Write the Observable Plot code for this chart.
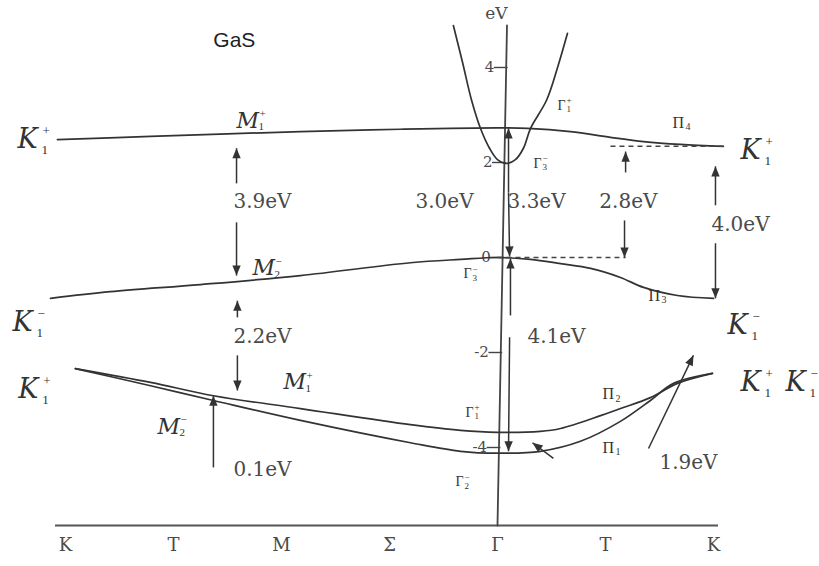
<!DOCTYPE html>
<html>
<head>
<meta charset="utf-8">
<script src="https://cdn.jsdelivr.net/npm/d3@7"></script>
<script src="https://cdn.jsdelivr.net/npm/@observablehq/plot@0.6"></script>
<style>
  html, body { margin: 0; padding: 0; background: #fff; }
</style>
</head>
<body>
<div id="chart"></div>
<script>
// Path through the Brillouin zone K–T–M–Σ–Γ–T–K (Γ at 0), energies in eV.
const pathTicks = [-2, -1.5, -1, -0.5, 0, 0.5, 1];
const pathTickLabels = ["K", "T", "M", "Σ", "Γ", "T", "K"];
const energyTicks = [4, 2, 0, -2, -4];
const energyTickLabels = ["4", "2", "0", "-2", "-4"];

// Bands
const upperBandK = [-2.037, -1.606, -0.912, -0.449, 0, 0.139, 0.338, 0.523, 0.676, 0.847, 1.046];
const upperBandE = [2.48, 2.55, 2.65, 2.70, 2.73, 2.72, 2.65, 2.53, 2.44, 2.38, 2.34];

const valenceTopK = [-2.069, -1.792, -1.375, -0.912, -0.403, -0.171, 0, 0.153, 0.292, 0.431, 0.569, 0.676, 0.833, 1.0];
const valenceTopE = [-0.86, -0.72, -0.57, -0.38, -0.11, -0.04, 0, -0.04, -0.13, -0.23, -0.42, -0.63, -0.80, -0.86];

const lowerBand1K = [-1.954, -1.606, -1.315, -0.912, -0.403, -0.171, 0, 0.199, 0.292, 0.477, 0.569, 0.708, 0.833, 0.995];
const lowerBand1E = [-2.34, -2.63, -2.91, -3.18, -3.52, -3.64, -3.68, -3.66, -3.60, -3.33, -3.18, -2.95, -2.65, -2.44];

const lowerBand2K = [-1.954, -1.606, -1.315, -0.912, -0.403, -0.171, 0, 0.199, 0.384, 0.569, 0.708, 0.815, 0.995];
const lowerBand2E = [-2.34, -2.70, -3.01, -3.43, -3.90, -4.08, -4.12, -4.08, -3.87, -3.45, -3.01, -2.65, -2.44];

const conductionK = [-0.204, -0.162, -0.120, -0.079, -0.037, 0, 0.042, 0.083, 0.120, 0.153, 0.227, 0.278, 0.324];
const conductionE = [4.88, 4.11, 3.31, 2.72, 2.30, 2.06, 1.98, 2.06, 2.30, 2.72, 3.31, 4.00, 4.72];

// Reference levels (dashed)
const dashedLevels = [
  {k1: 0.523, k2: 1.046, e: 2.34},
  {k1: 0, k2: 0.593, e: 0}
];

// Energy axis drawn through Γ
const energyAxis = [{k: 0.044, e: 4.884}, {k: 0, e: -5.642}];

// Gap arrows: tail (k1, e1) -> head (k2, e2)
const gapArrows = [
  {k1: -1.208, e1: 1.56, k2: -1.208, e2: 2.30},
  {k1: -1.208, e1: 0.74, k2: -1.208, e2: -0.38},
  {k1: -1.204, e1: -1.26, k2: -1.204, e2: -0.91},
  {k1: -1.204, e1: -2.06, k2: -1.204, e2: -2.80},
  {k1: -1.315, e1: -4.42, k2: -1.315, e2: -2.91},
  {k1: 0.051, e1: 1.37, k2: 0.051, e2: 2.72},
  {k1: 0.051, e1: 1.37, k2: 0.056, e2: 0.02},
  {k1: 0.060, e1: -1.22, k2: 0.060, e2: -0.02},
  {k1: 0.056, e1: -1.68, k2: 0.051, e2: -4.08},
  {k1: 0.593, e1: 1.79, k2: 0.593, e2: 2.23},
  {k1: 0.588, e1: 0.78, k2: 0.588, e2: 0.0},
  {k1: 1.009, e1: 1.10, k2: 1.009, e2: 1.92},
  {k1: 1.009, e1: 0.30, k2: 1.009, e2: -0.86},
  {k1: 0.699, e1: -4.02, k2: 0.907, e2: -2.06},
  {k1: 0.259, e1: -4.23, k2: 0.162, e2: -3.90}
];

// Gap values
const gapLabels = ["3.9eV", "2.2eV", "0.1eV", "3.0eV", "3.3eV", "2.8eV", "4.0eV", "4.1eV", "1.9eV"];
const gapLabelK = [-1.088, -1.088, -1.088, -0.245, 0.181, 0.606, 1.125, 0.273, 0.884];
const gapLabelE = [1.18, -1.66, -4.46, 1.18, 1.18, 1.18, 0.70, -1.66, -4.32];

// Symmetry labels of the band states
const stateLabels = [
  {base: "K", sub: "1", sup: "+", k: -2.222, e: 2.48},
  {base: "K", sub: "1", sup: "−", k: -2.245, e: -1.37},
  {base: "K", sub: "1", sup: "+", k: -2.218, e: -2.78},
  {base: "K", sub: "1", sup: "+", k: 1.125, e: 2.25},
  {base: "K", sub: "1", sup: "−", k: 1.065, e: -1.43},
  {base: "K", sub: "1", sup: "+", k: 1.125, e: -2.63},
  {base: "K", sub: "1", sup: "−", k: 1.333, e: -2.63},
  {base: "M", sub: "1", sup: "+", k: -1.208, e: 2.88},
  {base: "M", sub: "2", sup: "−", k: -1.134, e: -0.23},
  {base: "M", sub: "1", sup: "+", k: -0.991, e: -2.63},
  {base: "M", sub: "2", sup: "−", k: -1.574, e: -3.56},
  {base: "Γ", sub: "1", sup: "+", k: 0.278, e: 3.20},
  {base: "Γ", sub: "3", sup: "−", k: 0.167, e: 1.98},
  {base: "Γ", sub: "3", sup: "−", k: -0.157, e: -0.34},
  {base: "Γ", sub: "1", sup: "+", k: -0.148, e: -3.26},
  {base: "Γ", sub: "2", sup: "−", k: -0.194, e: -4.72},
  {base: "Π", sub: "4", sup: "", k: 0.810, e: 2.84},
  {base: "Π", sub: "3", sup: "", k: 0.699, e: -0.80},
  {base: "Π", sub: "2", sup: "", k: 0.486, e: -2.88},
  {base: "Π", sub: "1", sup: "", k: 0.486, e: -4.00}
];

const titleText = "GaS";
const titlePos = {k: -1.218, e: 4.57};
const unitText = "eV";
const unitPos = {k: -0.005, e: 5.14};

// ---------------------------------------------------------------
const width = 819, height = 566;
const marginLeft = 55, marginRight = 101, marginTop = 25, marginBottom = 41;
const kDomain = [-2.046, 1.023];
const eDomain = [-5.642, 4.884];

const zip = (ks, es) => ks.map((k, i) => ({k, e: es[i]}));
const bands = [
  zip(upperBandK, upperBandE),
  zip(valenceTopK, valenceTopE),
  zip(lowerBand1K, lowerBand1E),
  zip(lowerBand2K, lowerBand2E),
  zip(conductionK, conductionE)
];

// k position of the (slightly tilted) energy axis at energy e
const axisK = (e) => {
  const [a, b] = energyAxis;
  return a.k + (b.k - a.k) * (e - a.e) / (b.e - a.e);
};

// pixel-space direction of each arrow, for orienting its head
const px = d3.scaleLinear(kDomain, [marginLeft, width - marginRight]);
const py = d3.scaleLinear(eDomain, [height - marginBottom, marginTop]);
const headAngle = (d) => {
  const dx = px(d.k2) - px(d.k1), dy = py(d.e2) - py(d.e1);
  return Math.atan2(dx, -dy) * 180 / Math.PI;
};

// filled arrowhead with its tip at the origin, pointing up
const arrowHead = {
  draw(context, size) {
    const r = Math.sqrt(size / Math.PI);
    const len = 2.3 * r, half = 0.95 * r;
    context.moveTo(0, 0);
    context.lineTo(-half, len);
    context.lineTo(half, len);
    context.closePath();
  }
};

const ink = "#333";
const textInk = "#4a4a4a";

const labelStyles = {
  K: {family: "DejaVu Serif", size: 27, italic: true, subSize: 13, subDx: 24, subDy: 10, supDx: 25, supDy: -9},
  M: {family: "DejaVu Serif", size: 22, italic: true, subSize: 11, subDx: 22, subDy: 6, supDx: 23, supDy: -7},
  "Γ": {family: "Liberation Serif", size: 14, italic: false, subSize: 9, subDx: 9, subDy: 4, supDx: 9, supDy: -5},
  "Π": {family: "Liberation Serif", size: 16, italic: false, subSize: 10, subDx: 13, subDy: 4, supDx: 13, supDy: -5}
};

const labelMarks = Object.entries(labelStyles).flatMap(([base, s]) => {
  const rows = stateLabels.filter(d => d.base === base);
  const common = {x: "k", y: "e", textAnchor: "start", lineAnchor: "middle", fill: ink};
  return [
    Plot.text(rows, {...common, text: "base", fontFamily: s.family, fontSize: s.size, fontStyle: s.italic ? "italic" : "normal"}),
    Plot.text(rows, {...common, text: "sub", fontFamily: "Liberation Serif", fontSize: s.subSize, dx: s.subDx, dy: s.subDy}),
    Plot.text(rows.filter(d => d.sup), {...common, text: "sup", fontFamily: "Liberation Serif", fontSize: s.subSize, dx: s.supDx, dy: s.supDy})
  ];
});

const chart = Plot.plot({
  width, height, marginLeft, marginRight, marginTop, marginBottom,
  x: {domain: kDomain, axis: null},
  y: {domain: eDomain, axis: null},
  marks: [
    // baseline of the k path
    Plot.ruleY([eDomain[0]], {stroke: "#555", strokeWidth: 2}),
    Plot.text(pathTicks, {
      x: d => d, frameAnchor: "bottom", dy: 25, text: (d, i) => pathTickLabels[i],
      fontFamily: "DejaVu Serif", fontSize: 18, fill: textInk
    }),
    // energy axis
    Plot.line(energyAxis, {x: "k", y: "e", stroke: "#444", strokeWidth: 1.8}),
    Plot.ruleY(energyTicks, {y: d => d, x1: d => axisK(d) - 0.055, x2: d => axisK(d) + 0.009, stroke: "#444", strokeWidth: 1.4}),
    Plot.text(energyTicks, {
      x: d => axisK(d) - 0.055, y: d => d, text: (d, i) => energyTickLabels[i],
      textAnchor: "end", dx: 0, fontFamily: "DejaVu Serif", fontSize: 15, fill: textInk
    }),
    Plot.text([unitPos], {x: "k", y: "e", text: () => unitText, fontFamily: "DejaVu Serif", fontSize: 17, fill: textInk}),
    // bands
    ...bands.map(b => Plot.line(b, {x: "k", y: "e", curve: "catmull-rom", stroke: ink, strokeWidth: 1.7})),
    // dashed reference levels
    Plot.link(dashedLevels, {x1: "k1", x2: "k2", y1: "e", y2: "e", stroke: "#444", strokeWidth: 1.5, strokeDasharray: "5,4"}),
    // gap arrows
    Plot.link(gapArrows, {x1: "k1", y1: "e1", x2: "k2", y2: "e2", stroke: ink, strokeWidth: 1.5}),
    Plot.dot(gapArrows, {x: "k2", y: "e2", symbol: arrowHead, r: 4.4, rotate: headAngle, fill: ink, stroke: "none"}),
    Plot.text(gapLabels, {
      x: (d, i) => gapLabelK[i], y: (d, i) => gapLabelE[i], text: d => d,
      fontFamily: "DejaVu Serif", fontSize: 20, fill: textInk
    }),
    // state labels
    ...labelMarks,
    // title
    Plot.text([titlePos], {x: "k", y: "e", text: () => titleText, fontFamily: "Liberation Sans", fontSize: 21, fill: "#222"})
  ]
});

document.getElementById("chart").append(chart);
</script>
</body>
</html>
